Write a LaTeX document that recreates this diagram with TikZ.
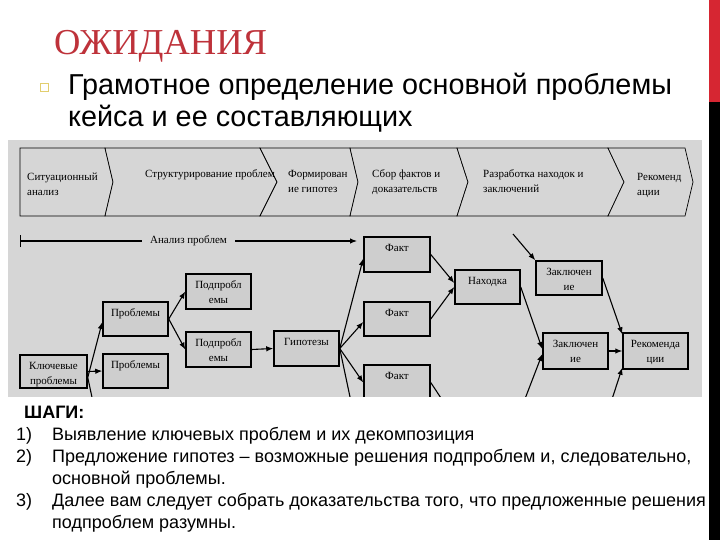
\documentclass[tikz,border=0pt]{standalone}
\usepackage{fontspec}
\setmainfont{Liberation Sans}
\newfontfamily\serifdg{Liberation Serif}
\usetikzlibrary{arrows.meta}
\definecolor{ttlred}{RGB}{190,50,58}
\definecolor{barred}{RGB}{214,38,50}
\definecolor{panelgray}{RGB}{214,214,214}
\definecolor{boxgray}{RGB}{206,206,206}
\definecolor{bulletyel}{RGB}{226,206,110}
\newcommand\dgfont{\serifdg\fontsize{11}{15}\selectfont}
\tikzset{
  bx/.style={draw=black, fill=boxgray, line width=1.5pt, minimum width=65pt, minimum height=34pt, inner sep=0pt},
  lbl/.style={anchor=north, inner sep=0pt, yshift=-4.5pt, font=\dgfont, align=center},
  conn/.style={line width=1.1pt, -{Latex[length=7pt,width=5.5pt]}},
  chev/.style={draw=black, fill=panelgray, line width=0.7pt},
  ctext/.style={anchor=north west, inner sep=0pt, font=\dgfont, align=left},
  steptext/.style={anchor=base west, inner sep=0pt, font=\fontsize{18}{22}\selectfont},
  bodytext/.style={anchor=base west, inner sep=0pt, font=\fontsize{28.8}{32}\selectfont}
}
\begin{document}
\begin{tikzpicture}[x=1pt,y=-1pt]
\useasboundingbox (0,0) rectangle (720,540);
\fill[white] (0,0) rectangle (720,540);

% title and bullet text
\node[anchor=base west, inner sep=0pt, text=ttlred, font=\serifdg\fontsize{36.5}{40}\selectfont] (title) at (54,55) {ОЖИДАНИЯ};
\node[draw=bulletyel, line width=0.8pt, minimum size=8pt, inner sep=0pt] (bul) at (44,87) {};
\node[bodytext] (body1) at (68,95) {Грамотное определение основной проблемы};
\node[bodytext] (body2) at (68,127) {кейса и ее составляющих};

% diagram panel
\fill[panelgray] (8,140) rectangle (702,400);

% chevrons
\foreach \a/\da/\b/\db in {20/0/105/8, 105/8/260/17, 260/17/350/8, 350/8/457/11, 457/11/608/16, 608/16/685/8}{
  \draw[chev] (\a,148) -- (\b,148) -- (\b+\db,182) -- (\b,216) -- (\a,216) -- (\a+\da,182) -- cycle;
}
\node[ctext] (c1) at (27,169.5) {\strut Ситуационный\\\strut анализ};
\node[ctext] (c2) at (145,166.5) {\strut Структурирование проблем};
\node[ctext] (c3) at (288,166.5) {\strut Формирован\\\strut ие гипотез};
\node[ctext] (c4) at (372,166.5) {\strut Сбор фактов и\\\strut доказательств};
\node[ctext] (c5) at (483,166.5) {\strut Разработка находок и\\\strut заключений};
\node[ctext] (c6) at (637,169.5) {\strut Рекоменд\\\strut ации};

% analysis arrow
\coordinate (ap0) at (20,241);
\coordinate (ap1) at (357,241);
\draw[line width=1.1pt, {Bar[width=12pt]}-{Latex[length=7pt,width=5.5pt]}] (ap0) -- node[fill=panelgray, font=\dgfont, inner xsep=8pt, inner ysep=1pt] (aplbl) {Анализ проблем} (ap1);

% boxes
\node[bx, minimum width=67pt, minimum height=33pt, label={[lbl]north:{\strut Ключевые\\\strut проблемы}}] (kp) at (53.5,371.5) {};
\node[bx, label={[lbl]north:{\strut Проблемы}}] (pr1) at (135.5,319) {};
\node[bx, label={[lbl]north:{\strut Проблемы}}] (pr2) at (135.5,371) {};
\node[bx, minimum height=35pt, label={[lbl]north:{\strut Подпробл\\\strut емы}}] (sp1) at (218.5,291.5) {};
\node[bx, minimum height=35pt, label={[lbl]north:{\strut Подпробл\\\strut емы}}] (sp2) at (218.5,349.5) {};
\node[bx, minimum height=35pt, label={[lbl]north:{\strut Гипотезы}}] (gp) at (306.5,348.5) {};
\node[bx, minimum width=66pt, minimum height=35pt, label={[lbl]north:{\strut Факт}}] (f1) at (397,254.5) {};
\node[bx, minimum width=66pt, label={[lbl]north:{\strut Факт}}] (f2) at (397,319) {};
\node[bx, minimum width=66pt, minimum height=35pt, label={[lbl]north:{\strut Факт}}] (f3) at (397,382.5) {};
\node[bx, label={[lbl]north:{\strut Находка}}] (nh) at (487.5,287) {};
\node[bx, minimum width=66pt, label={[lbl]north:{\strut Заключен\\\strut ие}}] (z1) at (569,278) {};
\node[bx, minimum height=36pt, label={[lbl]north:{\strut Заключен\\\strut ие}}] (z2) at (575.5,351) {};
\node[bx, minimum height=36pt, label={[lbl]north:{\strut Рекоменда\\\strut ции}}] (rk) at (655.5,351) {};

% free ends
\coordinate (kpdown) at (99,430);
\coordinate (gpdown) at (357,430);
\coordinate (f3down) at (462,430);
\coordinate (ztop) at (513,234);
\coordinate (z2low) at (513,430);
\coordinate (rklow) at (602,430);

% connectors
\draw[conn] ([yshift=-6pt]kp.east) -- ([yshift=-3pt]pr1.west);
\draw[conn] (kp.east) -- (pr2.west);
\draw[line width=1.1pt] ([yshift=-6pt]kp.east) -- (kpdown);
\draw[conn] (pr1.east) -- (sp1.west);
\draw[conn] (pr1.east) -- (sp2.west);
\draw[conn] (sp2.east) -- (gp.west);
\draw[conn] (gp.east) -- ([yshift=-4pt]f1.west);
\draw[conn] (gp.east) -- ([yshift=-3pt]f2.west);
\draw[conn] (gp.east) -- (f3.west);
\draw[line width=1.1pt] (gp.east) -- (gpdown);
\draw[conn] (f1.east) -- ([yshift=4pt]nh.west);
\draw[conn] (f2.east) -- (nh.west);
\draw[line width=1.1pt] (f3.east) -- (f3down);
\draw[conn] (ztop) -- (z1.north west);
\draw[conn] (nh.east) -- ([yshift=2pt]z2.west);
\draw[conn] (z2low) -- ([yshift=-3pt]z2.west);
\draw[conn] (z1.east) -- ([yshift=-2pt]rk.north west);
\draw[conn] (z2.east) -- (rk.west);
\draw[conn] (rklow) -- ([yshift=2pt]rk.south west);

% white steps box
\fill[white] (0,397) rectangle (706,540);
\node[anchor=base west, inner sep=0pt, font=\bfseries\fontsize{18}{22}\selectfont] (shagi) at (24,418) {ШАГИ:};
\node[steptext] (n1) at (16,440) {1)};
\node[steptext] (n2) at (16,462) {2)};
\node[steptext] (n3) at (16,506) {3)};
\node[steptext] (s1) at (52,440) {Выявление ключевых проблем и их декомпозиция};
\node[steptext] (s2a) at (52,462) {Предложение гипотез – возможные решения подпроблем и, следовательно,};
\node[steptext] (s2b) at (52,484) {основной проблемы.};
\node[steptext] (s3a) at (52,506) {Далее вам следует собрать доказательства того, что предложенные решения};
\node[steptext] (s3b) at (52,528) {подпроблем разумны.};

% right bars
\fill[barred] (709,0) rectangle (720,102);
\fill[black] (709,102) rectangle (720,540);
\end{tikzpicture}
\end{document}
